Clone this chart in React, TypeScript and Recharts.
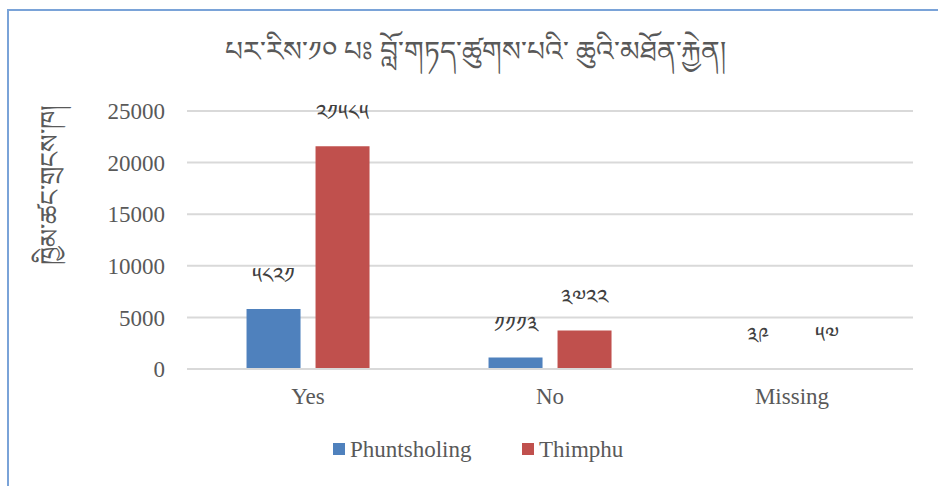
import React from 'react';
import { BarChart, Bar, XAxis, YAxis, CartesianGrid, Legend, LabelList } from 'recharts';

const categories = ['Yes', 'No', 'Missing'];
const phuntsholing = [5821, 1113, 39];
const thimphu = [21585, 3722, 57];
const yTicks = [0, 5000, 10000, 15000, 20000, 25000];
const seriesNames = ['Phuntsholing', 'Thimphu'];
const seriesColors = ['#4f81bd', '#c0504d'];
const title = 'པར་རིས་༡༠ པཿ བློ་གཏད་ཚུགས་པའི་ ཆུའི་མཐོན་རྐྱེན།';
const yLabel = 'ཁྱིམ་ཚང་གྲངས་ཁ།';

const data = categories.map((c, i) => ({
  category: c,
  [seriesNames[0]]: phuntsholing[i],
  [seriesNames[1]]: thimphu[i],
}));

const tib = (n: number) =>
  String(n).replace(/[0-9]/g, (d) => String.fromCharCode(0x0f20 + Number(d)));

const SERIF = 'Liberation Serif';
const TIB = 'serif';

const TibLabel = (props: any) => {
  const { x, y, width, value } = props;
  return (
    <text
      x={x + width / 2}
      y={y - 31}
      textAnchor="middle"
      dominantBaseline="middle"
      fontSize={22}
      fill="#404040"
      fontFamily={TIB}
    >
      {tib(value)}
    </text>
  );
};

const legendItemX = [333, 522];

const LegendContent = () => (
  <svg width={938} height={50} style={{ display: 'block' }}>
    {seriesNames.map((n, i) => (
      <g key={n}>
        <rect x={legendItemX[i]} y={29} width={12} height={12} fill={seriesColors[i]} />
        <text
          x={legendItemX[i] + 17}
          y={35}
          dominantBaseline="central"
          fontFamily={SERIF}
          fontSize={23}
          fill="#595959"
        >
          {n}
        </text>
      </g>
    ))}
  </svg>
);

export default function App() {
  return (
    <div style={{ position: 'absolute', left: 0, top: 0, width: 938, height: 486, background: '#fff', overflow: 'hidden' }}>
      <div
        style={{
          position: 'absolute',
          left: 7,
          top: 9,
          width: 960,
          height: 500,
          borderTop: '2px solid #7aa3d8',
          borderLeft: '2px solid #7aa3d8',
        }}
      />
      <div
        style={{
          position: 'absolute',
          left: 0,
          top: 20,
          width: 950,
          textAlign: 'center',
          fontFamily: TIB,
          fontSize: 28,
          color: '#595959',
          whiteSpace: 'nowrap',
        }}
      >
        {title}
      </div>
      <div
        style={{
          position: 'absolute',
          left: 57,
          top: 185,
          transform: 'translate(-50%, -50%) rotate(-90deg)',
          fontFamily: TIB,
          fontSize: 26,
          color: '#595959',
          whiteSpace: 'nowrap',
        }}
      >
        {yLabel}
      </div>
      <BarChart
        width={938}
        height={486}
        data={data}
        margin={{ top: 111, right: 25, bottom: 22, left: 0 }}
        barGap={15}
        barCategoryGap="24.6%"
        style={{ position: 'absolute', left: 0, top: 0 }}
      >
        <CartesianGrid vertical={false} stroke="#d9d9d9" strokeWidth={2} />
        <XAxis
          dataKey="category"
          axisLine={{ stroke: '#d9d9d9', strokeWidth: 2 }}
          tickLine={false}
          tick={{ fontSize: 23, fill: '#595959', fontFamily: SERIF }}
          tickMargin={13}
          height={45}
        />
        <YAxis
          domain={[0, 25000]}
          ticks={yTicks}
          axisLine={false}
          tickLine={false}
          width={187}
          tick={{ fontSize: 23, fill: '#595959', fontFamily: SERIF }}
          tickMargin={16}
        />
        <Legend
          verticalAlign="bottom"
          content={LegendContent}
          wrapperStyle={{ height: 50, left: 0, width: 938 }}
        />
        {seriesNames.map((n, i) => (
          <Bar key={n} dataKey={n} fill={seriesColors[i]} isAnimationActive={false}>
            <LabelList dataKey={n} content={TibLabel} />
          </Bar>
        ))}
      </BarChart>
    </div>
  );
}
